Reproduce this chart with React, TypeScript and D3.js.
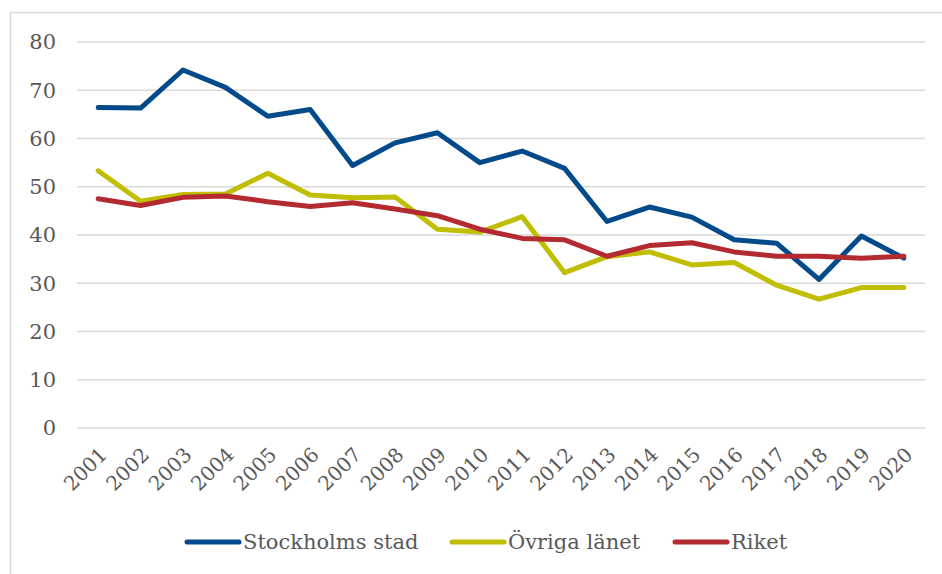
import { useRef, useEffect } from 'react';
import * as d3 from 'd3';

const years = ['2001', '2002', '2003', '2004', '2005', '2006', '2007', '2008', '2009', '2010',
  '2011', '2012', '2013', '2014', '2015', '2016', '2017', '2018', '2019', '2020'];
const stockholm = [66.4, 66.3, 74.2, 70.6, 64.6, 66.0, 54.4, 59.1, 61.2, 55.0,
  57.4, 53.8, 42.8, 45.8, 43.7, 39.0, 38.3, 30.8, 39.8, 35.2];
const ovriga = [53.3, 47.0, 48.4, 48.5, 52.8, 48.3, 47.7, 47.9, 41.2, 40.6,
  43.8, 32.2, 35.5, 36.5, 33.8, 34.3, 29.6, 26.7, 29.1, 29.1];
const riket = [47.5, 46.1, 47.8, 48.1, 46.9, 45.9, 46.7, 45.4, 44.0, 41.2,
  39.3, 39.0, 35.6, 37.8, 38.4, 36.5, 35.6, 35.6, 35.2, 35.6];
const yTicks = [0, 10, 20, 30, 40, 50, 60, 70, 80];

const series = [
  { name: 'Stockholms stad', values: stockholm, color: '#024a8a' },
  { name: 'Övriga länet', values: ovriga, color: '#c1bd00' },
  { name: 'Riket', values: riket, color: '#b32a31' },
];

const FONT = '"DejaVu Serif", serif';
const TEXT = '#595959';

export default function App() {
  const ref = useRef<HTMLDivElement>(null);

  useEffect(() => {
    if (!ref.current) return;
    const width = 942;
    const height = 574;

    d3.select(ref.current).selectAll('*').remove();

    const svg = d3.select(ref.current)
      .append('svg')
      .attr('width', width)
      .attr('height', height)
      .style('position', 'absolute')
      .style('left', '0px')
      .style('top', '0px')
      .style('background', 'white');

    // chart frame
    svg.append('path')
      .attr('d', `M10.5,574 V12.5 H942`)
      .attr('fill', 'none')
      .attr('stroke', '#d9d9d9')
      .attr('stroke-width', 1.5);

    const x = d3.scaleBand().domain(years).range([77, 925]);
    const y = d3.scaleLinear().domain([0, 80]).range([428, 42]);

    svg.append('g')
      .selectAll('line')
      .data(yTicks)
      .enter()
      .append('line')
      .attr('x1', 77)
      .attr('x2', 925)
      .attr('y1', (d) => y(d))
      .attr('y2', (d) => y(d))
      .attr('stroke', '#d9d9d9')
      .attr('stroke-width', 1.5);

    svg.append('g')
      .selectAll('text')
      .data(yTicks)
      .enter()
      .append('text')
      .attr('x', 56)
      .attr('y', (d) => y(d))
      .attr('dy', '0.35em')
      .attr('text-anchor', 'end')
      .style('font-family', FONT)
      .style('font-size', '21px')
      .style('fill', TEXT)
      .text((d) => d);

    svg.append('g')
      .selectAll('text')
      .data(years)
      .enter()
      .append('text')
      .attr('transform', (d) => `translate(${x(d)! + x.bandwidth() / 2 + 5}, 451) rotate(-45)`)
      .attr('text-anchor', 'end')
      .attr('dy', '0.35em')
      .style('font-family', FONT)
      .style('font-size', '20px')
      .style('fill', TEXT)
      .text((d) => d);

    const line = d3.line<number>()
      .x((_, i) => x(years[i])! + x.bandwidth() / 2)
      .y((d) => y(d))
      .curve(d3.curveLinear);

    series.forEach((s) => {
      svg.append('path')
        .attr('d', line(s.values))
        .attr('fill', 'none')
        .attr('stroke', s.color)
        .attr('stroke-width', 5)
        .attr('stroke-linejoin', 'round')
        .attr('stroke-linecap', 'round');
    });

    // legend
    const legendX = [187, 452, 675];
    const lg = svg.append('g');
    series.forEach((s, i) => {
      lg.append('line')
        .attr('x1', legendX[i])
        .attr('x2', legendX[i] + 52)
        .attr('y1', 542)
        .attr('y2', 542)
        .attr('stroke', s.color)
        .attr('stroke-width', 5)
        .attr('stroke-linecap', 'round');
      lg.append('text')
        .attr('x', legendX[i] + 56)
        .attr('y', 542)
        .attr('dy', '0.35em')
        .style('font-family', FONT)
        .style('font-size', '21px')
        .style('fill', TEXT)
        .text(s.name);
    });
  }, []);

  return <div ref={ref} />;
}
